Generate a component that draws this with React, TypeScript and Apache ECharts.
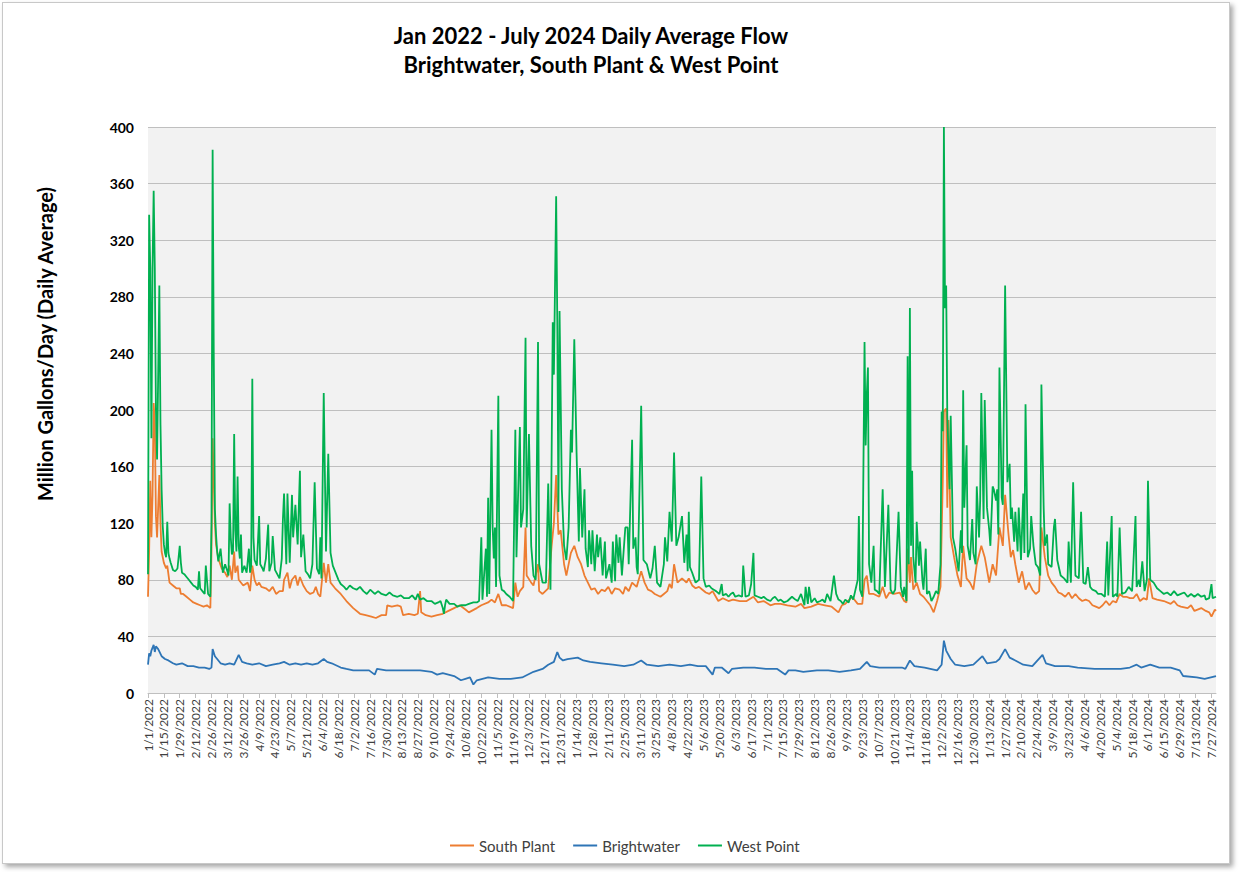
import { useEffect, useRef } from "react";
import * as echarts from "echarts";

// Daily categories 1/1/2022 .. 7/31/2024
const DAY_COUNT = 943;
const categories: string[] = [];
for (let i = 0; i < DAY_COUNT; i++) {
  const d = new Date(2022, 0, 1 + i);
  categories.push(`${d.getMonth() + 1}/${d.getDate()}/${d.getFullYear()}`);
}

const TITLE_1 = "Jan 2022 - July 2024 Daily Average Flow";
const TITLE_2 = "Brightwater, South Plant & West Point";
const Y_NAME = "Million Gallons/Day (Daily Average)";
const LEGEND_NAMES = ["South Plant", "Brightwater", "West Point"];

// [day offset from 1/1/2022, MGD]
const southPlant: [number, number][] = [[0,68],[1,100],[2,150],[3,110],[4,140],[5,205],[6,190],[7,125],[8,110],[10,154],[11,120],[12,100],[14,92],[16,88],[17,90],[19,78],[22,76],[25,74],[28,74],[29,70],[31,70],[34,68],[37,66],[40,64],[43,63],[46,62],[49,61],[52,62],[55,60],[56,100],[57,180],[58,150],[59,120],[60,105],[62,95],[65,88],[68,85],[70,82],[72,90],[74,80],[76,100],[77,85],[79,90],[80,80],[84,76],[88,78],[90,72],[92,90],[94,80],[96,76],[98,78],[100,75],[104,74],[107,72],[110,75],[113,70],[116,72],[119,72],[120,80],[123,85],[125,74],[127,80],[130,83],[132,76],[134,82],[137,76],[140,72],[143,70],[146,71],[148,75],[150,70],[152,68],[155,92],[157,78],[159,91],[161,78],[165,74],[170,70],[175,65],[181,60],[187,56],[192,55],[197,54],[201,53],[206,55],[210,55],[211,62],[215,61],[220,62],[223,61],[225,55],[230,56],[235,55],[238,56],[240,72],[241,57],[245,55],[250,54],[255,55],[260,56],[265,58],[270,60],[275,62],[280,59],[283,57],[290,60],[294,62],[300,64],[303,66],[306,64],[309,70],[312,62],[316,62],[322,60],[324,78],[326,68],[328,72],[331,75],[333,117],[334,83],[338,78],[340,76],[344,91],[345,72],[348,70],[353,74],[356,104],[358,120],[360,154],[362,112],[364,115],[367,91],[369,83],[373,99],[376,104],[379,96],[382,91],[385,83],[388,78],[391,73],[394,74],[397,70],[400,73],[403,72],[406,75],[409,70],[412,74],[416,73],[419,70],[421,75],[424,72],[427,78],[431,75],[435,86],[438,78],[441,73],[444,72],[447,70],[452,68],[455,70],[458,72],[460,77],[462,74],[464,91],[467,78],[471,81],[475,78],[477,81],[480,76],[483,74],[486,75],[489,73],[492,71],[495,70],[498,72],[503,65],[507,67],[512,65],[516,66],[522,65],[528,65],[534,68],[538,64],[543,65],[549,62],[553,63],[558,63],[564,62],[571,61],[576,63],[579,60],[585,61],[591,63],[597,62],[603,61],[609,57],[612,62],[615,63],[621,68],[626,63],[630,63],[632,80],[634,83],[636,70],[640,70],[645,68],[648,75],[651,67],[654,71],[658,70],[663,71],[667,65],[669,64],[670,102],[672,78],[673,96],[675,73],[678,78],[681,70],[684,68],[690,62],[693,57],[696,65],[699,75],[701,150],[702,199],[704,201],[705,131],[706,193],[708,110],[711,96],[714,83],[717,75],[719,104],[722,81],[725,78],[728,73],[731,91],[735,104],[738,96],[742,78],[745,91],[748,83],[751,117],[754,104],[756,140],[759,112],[761,96],[763,101],[765,91],[768,78],[771,86],[774,73],[777,78],[780,73],[783,70],[786,72],[788,117],[791,96],[794,83],[797,78],[800,75],[803,71],[806,70],[809,68],[812,71],[815,67],[818,70],[821,67],[824,65],[827,66],[830,65],[833,62],[836,61],[839,60],[842,62],[845,65],[848,62],[851,65],[854,64],[857,70],[860,68],[863,68],[866,67],[869,67],[872,70],[875,65],[878,67],[881,66],[883,81],[886,67],[890,66],[896,65],[902,63],[905,65],[908,62],[911,61],[917,60],[920,62],[923,58],[929,60],[933,58],[936,57],[938,54],[941,59],[942,58]];

const brightwater: [number, number][] = [[0,20],[1,28],[2,26],[3,30],[5,34],[6,29],[7,33],[9,31],[12,26],[15,24],[18,23],[22,21],[25,20],[30,21],[35,19],[40,19],[45,18],[50,18],[54,17],[56,18],[57,31],[59,26],[61,24],[64,21],[68,20],[72,21],[76,20],[80,27],[83,22],[87,21],[92,20],[98,21],[104,19],[110,20],[116,21],[120,22],[125,20],[130,21],[135,20],[140,21],[145,20],[150,21],[155,24],[158,22],[162,21],[170,18],[175,17],[181,16],[187,16],[195,16],[200,13],[202,17],[210,16],[220,16],[230,16],[240,16],[250,15],[255,13],[260,14],[270,12],[276,9],[280,10],[284,11],[287,6],[290,9],[295,10],[300,11],[310,10],[320,10],[330,11],[340,15],[348,17],[353,20],[358,22],[361,29],[363,25],[366,23],[370,24],[379,25],[384,23],[390,22],[400,21],[410,20],[420,19],[428,20],[435,23],[440,20],[450,19],[460,20],[470,19],[478,20],[485,19],[492,19],[498,13],[500,18],[506,18],[512,14],[515,17],[525,18],[535,18],[545,17],[555,17],[562,13],[565,16],[571,16],[578,15],[590,16],[600,16],[610,15],[620,16],[628,17],[634,22],[637,19],[645,18],[655,18],[665,18],[668,17],[672,23],[676,19],[685,18],[696,16],[700,20],[702,37],[704,30],[708,24],[712,20],[720,19],[728,20],[736,26],[740,21],[748,22],[751,24],[756,31],[760,25],[765,23],[772,20],[780,19],[789,27],[792,21],[800,19],[812,19],[820,18],[835,17],[845,17],[858,17],[866,18],[872,20],[876,18],[884,20],[892,18],[902,18],[910,16],[913,12],[925,11],[932,10],[942,12]];

const westPoint: [number, number][] = [[0,84],[1,338],[2,300],[3,180],[4,300],[5,355],[6,300],[7,200],[8,165],[10,288],[11,190],[12,144],[13,118],[14,105],[15,99],[16,96],[17,121],[18,99],[19,95],[20,92],[22,87],[24,86],[26,88],[28,104],[29,92],[30,85],[32,84],[34,82],[36,80],[38,78],[40,76],[42,75],[43,74],[44,73],[45,86],[46,74],[48,72],[50,70],[51,90],[52,80],[53,70],[55,68],[56,120],[57,384],[58,240],[59,130],[60,112],[61,100],[62,93],[64,102],[66,85],[68,91],[70,86],[71,83],[72,134],[73,110],[74,98],[75,100],[76,183],[77,115],[78,100],[79,153],[80,104],[81,95],[82,112],[83,85],[85,90],[87,85],[89,102],[90,85],[91,90],[92,222],[93,110],[94,94],[96,90],[98,125],[99,91],[101,88],[102,86],[104,95],[106,119],[107,86],[109,92],[110,111],[112,87],[114,84],[116,81],[118,95],[119,123],[120,141],[122,91],[123,141],[125,92],[127,140],[128,110],[130,133],[132,105],[134,157],[135,96],[137,112],[139,86],[141,84],[143,81],[145,91],[147,149],[149,88],[151,84],[152,110],[153,81],[155,212],[157,100],[159,169],[161,99],[163,90],[165,86],[168,80],[170,77],[173,75],[175,73],[178,76],[181,74],[184,73],[187,75],[190,72],[193,70],[196,73],[200,70],[203,72],[206,70],[210,69],[213,71],[216,69],[220,68],[223,69],[226,67],[230,67],[233,69],[236,66],[238,70],[240,66],[243,67],[246,65],[250,65],[253,63],[256,64],[258,65],[260,60],[261,56],[262,62],[263,66],[266,63],[270,63],[273,61],[276,62],[280,62],[283,63],[287,64],[290,64],[292,65],[294,110],[295,66],[298,102],[299,68],[300,138],[301,70],[303,186],[304,117],[305,95],[306,117],[307,75],[309,210],[310,83],[312,73],[314,72],[316,70],[319,68],[322,65],[324,186],[325,96],[328,188],[329,117],[331,130],[333,251],[334,117],[336,183],[338,104],[340,83],[342,80],[344,248],[345,91],[348,78],[351,78],[353,148],[355,73],[357,262],[358,225],[360,351],[361,263],[362,128],[363,270],[365,144],[367,104],[369,94],[371,117],[373,186],[374,170],[376,250],[378,170],[380,107],[381,159],[383,110],[385,144],[386,102],[388,89],[389,115],[391,91],[392,115],[394,86],[396,112],[397,96],[399,110],[401,83],[403,107],[404,81],[407,91],[409,78],[410,107],[412,79],[413,112],[415,92],[416,110],[418,83],[421,117],[423,117],[424,91],[427,179],[428,102],[430,110],[431,89],[432,84],[435,203],[437,94],[440,91],[443,81],[445,88],[447,104],[449,78],[452,75],[455,91],[456,110],[458,93],[460,128],[462,107],[464,170],[466,104],[468,110],[471,125],[473,92],[475,112],[476,86],[477,128],[478,89],[480,85],[483,78],[486,80],[488,153],[490,81],[492,75],[495,76],[497,74],[499,73],[501,72],[504,70],[506,77],[507,69],[510,70],[512,68],[514,70],[516,71],[518,68],[521,69],[524,68],[525,90],[527,68],[530,69],[532,77],[534,99],[535,69],[538,68],[541,67],[543,68],[546,66],[549,65],[551,67],[553,68],[556,65],[558,66],[561,64],[564,65],[568,68],[571,66],[573,65],[576,70],[579,62],[580,75],[582,63],[583,75],[585,64],[588,67],[590,64],[593,65],[595,66],[597,64],[599,70],[602,65],[605,83],[607,70],[609,66],[611,65],[613,63],[615,66],[618,64],[620,69],[622,66],[624,73],[626,80],[627,125],[628,73],[630,68],[632,248],[633,175],[634,211],[635,230],[636,91],[638,78],[640,104],[641,73],[643,72],[645,70],[648,144],[650,75],[653,133],[655,73],[657,70],[659,73],[662,128],[664,75],[666,68],[667,75],[669,65],[670,238],[671,91],[672,272],[673,104],[674,157],[675,96],[677,78],[678,121],[680,90],[681,107],[683,80],[684,73],[686,102],[687,70],[689,72],[691,65],[693,68],[695,72],[697,70],[699,91],[700,199],[701,185],[702,400],[703,272],[704,288],[705,196],[707,144],[708,196],[710,110],[712,102],[714,91],[715,86],[717,115],[718,99],[719,214],[720,131],[722,175],[723,104],[725,94],[727,123],[728,99],[730,91],[731,146],[733,110],[734,136],[735,212],[737,123],[738,207],[740,131],[742,115],[743,104],[745,146],[746,144],[748,136],[749,144],[750,112],[751,230],[753,138],[754,133],[756,288],[758,149],[760,162],[761,123],[762,131],[764,107],[765,128],[767,100],[768,131],[770,94],[772,141],[773,99],[774,204],[776,96],[778,102],[779,125],[781,104],[783,91],[785,89],[787,83],[788,218],[790,131],[791,104],[793,112],[794,91],[797,89],[799,117],[800,123],[802,94],[805,83],[808,81],[811,78],[812,107],[814,78],[816,149],[818,83],[821,81],[823,128],[825,78],[827,77],[829,89],[831,75],[833,73],[836,72],[838,70],[841,70],[844,68],[846,107],[847,69],[850,125],[851,68],[854,70],[855,68],[857,117],[859,70],[862,71],[865,75],[868,72],[869,89],[871,125],[872,75],[874,80],[875,75],[877,93],[879,72],[881,80],[882,150],[884,80],[887,78],[890,74],[893,72],[896,70],[899,71],[902,69],[905,72],[908,69],[911,70],[914,71],[917,68],[920,70],[923,68],[926,70],[929,68],[932,69],[933,66],[936,67],[938,77],[939,67],[942,68]];

const FONT = "Lato, 'Open Sans', sans-serif";
const COLORS = { south: "#ED7D31", bright: "#2E75B6", west: "#00B050" };

export default function App() {
  const ref = useRef<HTMLDivElement>(null);
  useEffect(() => {
    if (!ref.current) return;
    const chart = echarts.init(ref.current, undefined, { renderer: "svg" });
    const toData = (arr: [number, number][]) => arr.map(([d, v]) => [d, v]);
    const titleStyle = {
      fontSize: 22,
      fontWeight: "bold",
      fontFamily: FONT,
      fill: "#000",
      align: "center",
      verticalAlign: "middle",
    };
    chart.setOption({
      animation: false,
      textStyle: { fontFamily: FONT },
      graphic: [
        { type: "text", x: 591, y: 35, style: { ...titleStyle, text: TITLE_1 } },
        { type: "text", x: 591, y: 64, style: { ...titleStyle, text: TITLE_2 } },
        {
          type: "text",
          x: 45,
          y: 344,
          rotation: Math.PI / 2,
          style: {
            text: Y_NAME,
            fontSize: 20,
            fontWeight: "bold",
            fontFamily: FONT,
            fill: "#000",
            align: "center",
            verticalAlign: "middle",
          },
        },
      ],
      legend: {
        top: 838,
        left: 450,
        padding: 0,
        icon: "rect",
        itemWidth: 24,
        itemHeight: 2,
        itemGap: 18,
        textStyle: { fontSize: 15, color: "#404040", fontFamily: FONT },
        data: LEGEND_NAMES,
      },
      grid: {
        left: 148,
        right: 26,
        top: 127,
        bottom: 179,
        show: true,
        backgroundColor: "#f2f2f2",
        borderWidth: 0,
      },
      xAxis: {
        type: "category",
        data: categories,
        boundaryGap: false,
        axisLine: { lineStyle: { color: "#bfbfbf", width: 1 } },
        axisTick: { show: true, interval: 13, length: 5, lineStyle: { color: "#bfbfbf" } },
        axisLabel: {
          interval: 13,
          rotate: 90,
          fontSize: 12,
          color: "#404040",
          fontFamily: FONT,
          margin: 6,
        },
        splitLine: { show: false },
      },
      yAxis: {
        type: "value",
        min: 0,
        max: 400,
        interval: 40,
        axisLine: { show: false },
        axisTick: { show: false },
        axisLabel: {
          fontSize: 14,
          fontWeight: "bold",
          color: "#000",
          fontFamily: FONT,
          margin: 14,
        },
        splitLine: { lineStyle: { color: "#bfbfbf", width: 1 } },
      },
      series: [
        {
          name: LEGEND_NAMES[0],
          type: "line",
          data: toData(southPlant),
          showSymbol: false,
          symbol: "none",
          lineStyle: { color: COLORS.south, width: 1.8 },
          itemStyle: { color: COLORS.south },
        },
        {
          name: LEGEND_NAMES[1],
          type: "line",
          data: toData(brightwater),
          showSymbol: false,
          symbol: "none",
          lineStyle: { color: COLORS.bright, width: 1.8 },
          itemStyle: { color: COLORS.bright },
        },
        {
          name: LEGEND_NAMES[2],
          type: "line",
          data: toData(westPoint),
          showSymbol: false,
          symbol: "none",
          lineStyle: { color: COLORS.west, width: 1.8 },
          itemStyle: { color: COLORS.west },
        },
      ],
    });
    return () => chart.dispose();
  }, []);

  return (
    <div style={{ position: "fixed", left: 0, top: 0, width: 1242, height: 872, background: "#fff" }}>
      <div
        style={{
          position: "absolute",
          left: 2,
          top: 2,
          width: 1226,
          height: 860,
          border: "1px solid #c8c8c8",
          boxShadow: "3px 3px 5px rgba(0,0,0,0.35)",
          background: "#fff",
        }}
      />
      <div ref={ref} style={{ position: "absolute", left: 0, top: 0, width: 1242, height: 872 }} />
    </div>
  );
}
